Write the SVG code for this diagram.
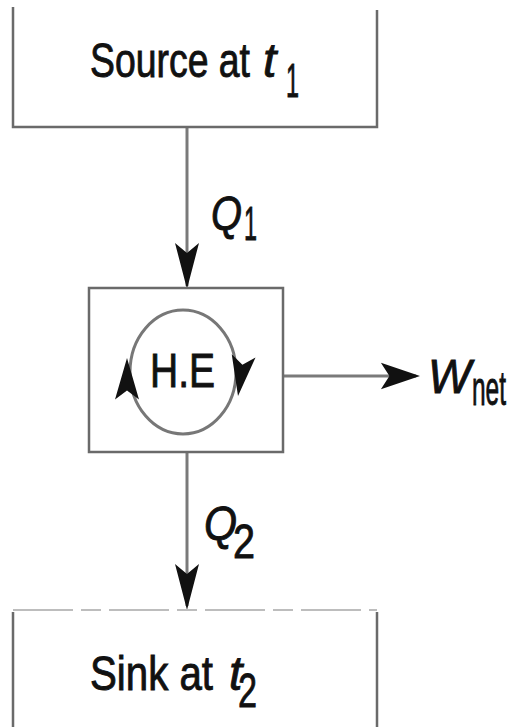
<svg xmlns="http://www.w3.org/2000/svg" width="517" height="727" viewBox="0 0 517 727">
<style>
.box{fill:none;stroke:#6a6a6a;stroke-width:2.5}
.ln{fill:none;stroke:#7a7a7a;stroke-width:3}
.t{font-family:"Liberation Sans",Arial,sans-serif;font-size:48px;fill:#111;stroke:#111;stroke-width:0.9}
.i{font-style:italic}
</style>
<defs>
<path id="ah" d="M0,0 L-12,-46 L0,-36 L12,-46 Z" fill="#111"/>
</defs>
<rect width="517" height="727" fill="#fff"/>
<g id="connectors">
<line class="ln" x1="187" y1="127" x2="187" y2="286"/>
<use href="#ah" transform="translate(187,289)"/>
<line class="ln" x1="187" y1="452" x2="187" y2="606"/>
<use href="#ah" transform="translate(187,610)"/>
<line class="ln" x1="283" y1="376" x2="416" y2="376"/>
<use href="#ah" transform="translate(420,376) rotate(-90) scale(1.1,0.85)"/>
</g>
<g id="source">
<path class="box" d="M13,7 V127 H377 V10"/>
<text class="t" x="90" y="77" textLength="160" lengthAdjust="spacingAndGlyphs">Source at</text>
<text class="t i" x="263" y="77">t</text>
<text class="t" x="286" y="97" font-size="40" textLength="13" lengthAdjust="spacingAndGlyphs">1</text>
</g>
<g id="q1">
<text class="t i" x="211" y="230" textLength="31" lengthAdjust="spacingAndGlyphs">Q</text>
<text class="t" x="244" y="240" font-size="40" textLength="13" lengthAdjust="spacingAndGlyphs">1</text>
</g>
<g id="he">
<rect class="box" x="89" y="288" width="194" height="164"/>
<ellipse cx="183" cy="372" rx="53" ry="62" fill="none" stroke="#777" stroke-width="3"/>
<use href="#ah" transform="translate(127,358) rotate(180) scale(1,0.9)"/>
<use href="#ah" transform="translate(238,396) rotate(8) scale(1,0.88)"/>
<text class="t" x="150" y="387" textLength="65" lengthAdjust="spacingAndGlyphs">H.E</text>
</g>
<g id="wnet">
<text class="t i" x="428" y="393" textLength="43" lengthAdjust="spacingAndGlyphs">W</text>
<text class="t" x="472" y="405" font-size="38" textLength="34" lengthAdjust="spacingAndGlyphs">net</text>
</g>
<g id="q2">
<text class="t i" x="204" y="540" textLength="33" lengthAdjust="spacingAndGlyphs">Q</text>
<text class="t" x="233" y="558" font-size="42" textLength="22" lengthAdjust="spacingAndGlyphs">2</text>
</g>
<g id="sink">
<line x1="13" y1="610" x2="377" y2="610" stroke="#bdbdbd" stroke-width="2" stroke-dasharray="60,8,20,8"/>
<path class="box" d="M13,612 V727 M377,612 V727"/>
<text class="t" x="90" y="690" textLength="123" lengthAdjust="spacingAndGlyphs">Sink at</text>
<text class="t i" x="229" y="690">t</text>
<text class="t" x="238" y="707" font-size="42" textLength="19" lengthAdjust="spacingAndGlyphs">2</text>
</g>
</svg>
